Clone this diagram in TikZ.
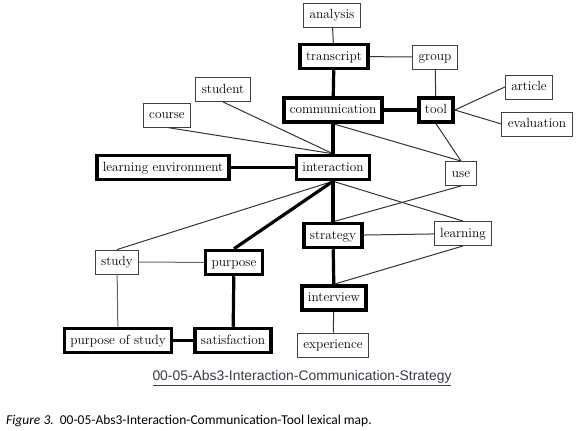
\documentclass[tikz,border=0pt]{standalone}
\usepackage{fontspec}
\newfontfamily\arialfont{Liberation Sans}
\newfontfamily\calfont{Carlito}
\usetikzlibrary{positioning}
\definecolor{capgray}{HTML}{3A3A48}
\tikzset{
  term/.style={draw=black!75,line width=0.9pt,fill=white,inner xsep=6pt,inner ysep=5.5pt,
    text height=10pt,text depth=3pt,font=\rmfamily\fontsize{13.3}{15}\selectfont},
  keyterm/.style={term,draw=black,line width=3.5pt},
  link/.style={black!80,line width=1pt},
  strong/.style={black,line width=3.2pt},
}

\begin{document}
\begin{tikzpicture}[x=1pt,y=-1pt]
        \useasboundingbox (0,0) rectangle (579,431);
        % terms
        \node[term] (analysis) at (332,15.5) {analysis};
        \node[keyterm] (transcript) at (334,56.5) {transcript};
        \node[term] (group) at (435,57) {group};
        \node[keyterm] (communication) at (333,110) {communication};
        \node[keyterm] (tool) at (436,110) {tool};
        \node[term] (article) at (529,87) {article};
        \node[term] (evaluation) at (537,124) {evaluation};
        \node[term] (student) at (223,89.5) {student};
        \node[term] (course) at (167,115) {course};
        \node[keyterm] (interaction) at (333,167.5) {interaction};
        \node[keyterm] (learnenv) at (163,167.5) {learning environment};
        \node[term] (use) at (461,173.5) {use};
        \node[term] (study) at (117,262) {study};
        \node[keyterm] (purpose) at (234,262.5) {purpose};
        \node[keyterm] (strategy) at (333,235.5) {strategy};
        \node[term] (learning) at (463,233.5) {learning};
        \node[keyterm] (interview) at (334,298) {interview};
        \node[term] (experience) at (333,345) {experience};
        \node[keyterm] (purposestudy) at (118,340.5) {purpose of study};
        \node[keyterm] (satisfaction) at (233,340.5) {satisfaction};
        % thin links
        \draw[link] (analysis) -- (transcript);
        \draw[link] (transcript) -- (group);
        \draw[link] (group) -- (tool);
        \draw[link] (tool.east) -- (article.west);
        \draw[link] (tool.east) -- (evaluation.west);
        \draw[link] (tool.south) -- (use.north);
        \draw[link] (communication.south) -- (use.north);
        \draw[link] (student.south) -- (interaction.north);
        \draw[link] (course.south) -- (interaction.north);
        \draw[link] (interaction.south) -- (study.north);
        \draw[link] (interaction.south) -- (learning.north);
        \draw[link] (use.south) -- (strategy.north);
        \draw[link] (strategy) -- (learning);
        \draw[link] (learning.south) -- (interview.north);
        \draw[link] (interview) -- (experience);
        \draw[link,black!60] (study) -- (purpose);
        \draw[link,black!60] (study) -- (purposestudy);
        % strong links
        \draw[strong] (transcript) -- (communication);
        \draw[strong] (communication) -- (tool);
        \draw[strong] (communication) -- (interaction);
        \draw[strong] (learnenv) -- (interaction);
        \draw[strong] (interaction.south) -- (purpose.north);
        \draw[strong] (interaction) -- (strategy);
        \draw[strong] (strategy) -- (interview);
        \draw[strong] (purpose) -- (satisfaction);
        \draw[strong] (purposestudy) -- (satisfaction);
        % captions
        \node[text=capgray,font=\arialfont\fontsize{13.9}{15}\selectfont] (mapname) at (302,378)
          {\underline{00-05-Abs3-Interaction-Communication-Strategy}};
        \node[anchor=west,inner sep=0pt,font=\calfont\fontsize{13.5}{15}\selectfont] (figcap) at (6,421)
          {\textit{Figure 3.}\ \ 00-05-Abs3-Interaction-Communication-Tool lexical map.};
      \end{tikzpicture}
\end{document}
